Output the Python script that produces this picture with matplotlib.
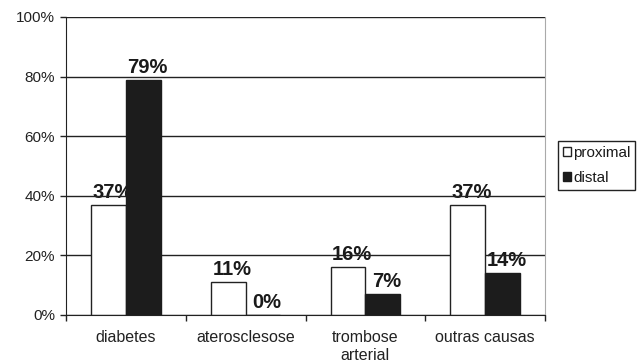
import numpy as np
import matplotlib.pyplot as plt
from matplotlib.ticker import FixedLocator, PercentFormatter

plt.rcParams['font.family'] = ['Liberation Sans', 'DejaVu Sans']

categories = ['diabetes', 'aterosclesose', 'trombose\narterial', 'outras causas']
proximal = [37, 11, 16, 37]
distal = [79, 0, 7, 14]

fig = plt.figure(figsize=(6.38, 3.64), dpi=100)
ax = fig.add_axes([66 / 638, 49 / 364, 479 / 638, 298 / 364])

x = np.arange(len(categories))
w = 0.29
b1 = ax.bar(x - w / 2, proximal, w, color='white', edgecolor='#222222',
            linewidth=1.0, label='proximal', zorder=2)
b2 = ax.bar(x + w / 2, distal, w, color='#1c1c1c', edgecolor='#1c1c1c',
            linewidth=1.0, label='distal', zorder=2)

# value labels sit behind the grid and the bars
for bars, vals in ((b1, proximal), (b2, distal)):
    for rect, v in zip(bars, vals):
        ax.annotate(f'{v}%', (rect.get_x() + rect.get_width() / 2, v),
                    xytext=(3, 5), textcoords='offset points',
                    ha='center', va='baseline', fontsize=14.5,
                    fontweight='bold', color='#1a1a1a', zorder=0.4)

ax.set_xlim(-0.5, len(categories) - 0.5)
ax.set_ylim(0, 100)
ax.set_axisbelow(True)
ax.yaxis.grid(True, color='#222222', linewidth=1.0)

ax.set_yticks(np.arange(0, 101, 20))
ax.yaxis.set_major_formatter(PercentFormatter(decimals=0))
ax.tick_params(axis='y', direction='out', length=4, width=1,
               labelsize=11, pad=4, colors='#222222')

ax.set_xticks(x)
ax.set_xticklabels(categories)
ax.xaxis.set_minor_locator(FixedLocator(np.arange(-0.5, len(categories), 1)))
ax.tick_params(axis='x', which='major', length=0, labelsize=11.5, pad=11,
               colors='#222222')
ax.tick_params(axis='x', which='minor', direction='out', length=4, width=1,
               color='#222222')

ax.spines['top'].set_visible(False)
ax.spines['right'].set_color('#aaaaaa')
ax.spines['left'].set_color('#222222')
ax.spines['bottom'].set_color('#222222')

leg = fig.legend(loc='upper left', bbox_to_anchor=(558 / 638, 1 - 141 / 364),
                 fontsize=11, frameon=True, fancybox=False,
                 edgecolor='#222222', framealpha=1, handlelength=0.55,
                 handleheight=0.55, handletextpad=0.15, labelspacing=0.75,
                 borderpad=0.3, borderaxespad=0)
leg.get_frame().set_linewidth(1.0)
for t in leg.get_texts():
    t.set_color('#1a1a1a')

fig.savefig('out.png', dpi=100)
